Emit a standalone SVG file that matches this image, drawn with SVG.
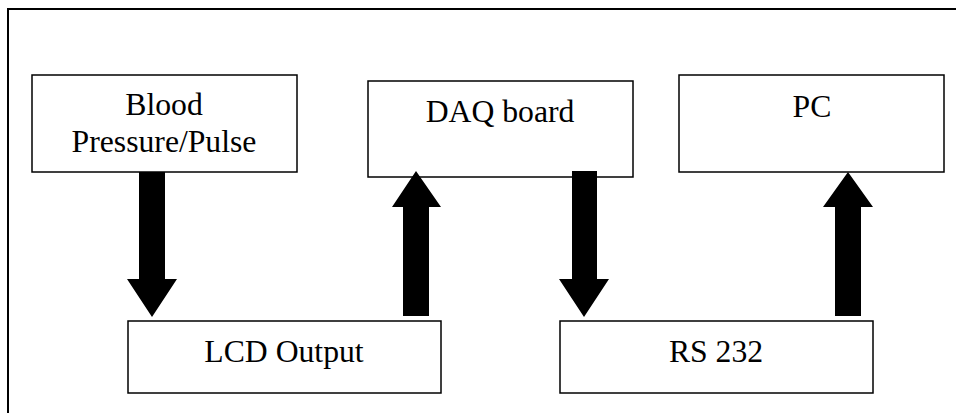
<svg xmlns="http://www.w3.org/2000/svg" width="956" height="413" viewBox="0 0 956 413">
<style>
.box{fill:#fff;stroke:#000;stroke-width:1.5}
.lbl{font-family:"Liberation Serif","Times New Roman",serif;font-size:31.7px;fill:#000;text-anchor:middle}
.arr{fill:#000;stroke:none}
.frame{fill:none;stroke:#000;stroke-width:2}
</style>
<rect width="956" height="413" fill="#fff"/>
<path class="frame" d="M8,414 V9 H957"/>
<g id="bp">
<rect class="box" x="32" y="75" width="265" height="97"/>
<text class="lbl" x="164" y="115">Blood</text>
<text class="lbl" x="164" y="152">Pressure/Pulse</text>
</g>
<g id="daq">
<rect class="box" x="368" y="81" width="265" height="96"/>
<text class="lbl" x="500" y="122">DAQ board</text>
</g>
<g id="pc">
<rect class="box" x="679" y="75" width="265" height="97"/>
<text class="lbl" x="812" y="117">PC</text>
</g>
<g id="lcd">
<rect class="box" x="128" y="321" width="313" height="72"/>
<text class="lbl" x="284" y="362">LCD Output</text>
</g>
<g id="rs232">
<rect class="box" x="560" y="321" width="313" height="72"/>
<text class="lbl" x="716" y="362">RS 232</text>
</g>
<g id="connectors">
<polygon class="arr" points="139,172 165,172 165,279 177,279 152,317 127,279 139,279"/>
<polygon class="arr" points="403,316 429,316 429,207 441,207 416,171 392,207 403,207"/>
<polygon class="arr" points="572,171 597,171 597,279 609,279 584,317 559,279 572,279"/>
<polygon class="arr" points="835,316 861,316 861,207 873,207 848,172 823,207 835,207"/>
</g>
</svg>
